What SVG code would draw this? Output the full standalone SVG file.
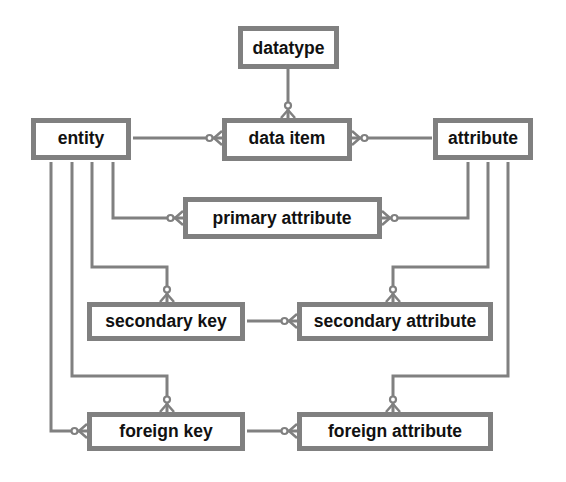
<svg xmlns="http://www.w3.org/2000/svg" width="566" height="482" viewBox="0 0 566 482">
<style>
.box{fill:#fff;stroke:#808080;stroke-width:5}
.lbl{font-family:"Liberation Sans",Arial,sans-serif;font-weight:bold;font-size:17.5px;fill:#111;text-anchor:middle}
.con{fill:none;stroke:#808080;stroke-width:3;marker-end:url(#crow)}
.plain{fill:none;stroke:#808080;stroke-width:3}
</style>
<defs>
<marker id="crow" markerUnits="userSpaceOnUse" viewBox="-20 -10 22 20" refX="0" refY="0" markerWidth="22" markerHeight="20" orient="auto" overflow="visible">
<path d="M-8,0 L0,-7 M-8,0 L0,7" fill="none" stroke="#808080" stroke-width="2.5"/>
<circle cx="-12.5" cy="0" r="3" fill="#fff" stroke="#808080" stroke-width="2.2"/>
</marker>
</defs>
<rect width="566" height="482" fill="#fff"/>
<g id="connectors">
<path class="con" d="M288,69 V118"/>
<path class="con" d="M133,138 H222"/>
<path class="con" d="M432,138 H352"/>
<path class="con" d="M113,162 V218 H183"/>
<path class="con" d="M468,162 V218 H382"/>
<path class="con" d="M92,162 V267 H167 V302"/>
<path class="con" d="M488,162 V267 H393 V302"/>
<path class="con" d="M247,321 H297"/>
<path class="con" d="M72,162 V376 H167 V412"/>
<path class="con" d="M51,162 V431 H87"/>
<path class="con" d="M508,162 V376 H393 V412"/>
<path class="con" d="M247,431 H297"/>
</g>
<g id="datatype"><rect class="box" x="240.5" y="28.5" width="96" height="38"/><text class="lbl" x="288.5" y="53.5">datatype</text></g>
<g id="data-item"><rect class="box" x="224.5" y="120.5" width="125" height="38"/><text class="lbl" x="287" y="144">data item</text></g>
<g id="entity"><rect class="box" x="33.5" y="120.5" width="95" height="37"/><text class="lbl" x="81" y="144">entity</text></g>
<g id="attribute"><rect class="box" x="435.5" y="120.5" width="95" height="37"/><text class="lbl" x="483" y="144">attribute</text></g>
<g id="primary-attribute"><rect class="box" x="185.5" y="199.5" width="194" height="37"/><text class="lbl" x="282" y="224">primary attribute</text></g>
<g id="secondary-key"><rect class="box" x="89.5" y="304.5" width="153" height="34"/><text class="lbl" x="166" y="327">secondary key</text></g>
<g id="secondary-attribute"><rect class="box" x="299.5" y="304.5" width="191" height="34"/><text class="lbl" x="395" y="327">secondary attribute</text></g>
<g id="foreign-key"><rect class="box" x="89.5" y="414.5" width="153" height="34"/><text class="lbl" x="166" y="437">foreign key</text></g>
<g id="foreign-attribute"><rect class="box" x="299.5" y="414.5" width="191" height="34"/><text class="lbl" x="395" y="437">foreign attribute</text></g>
</svg>
